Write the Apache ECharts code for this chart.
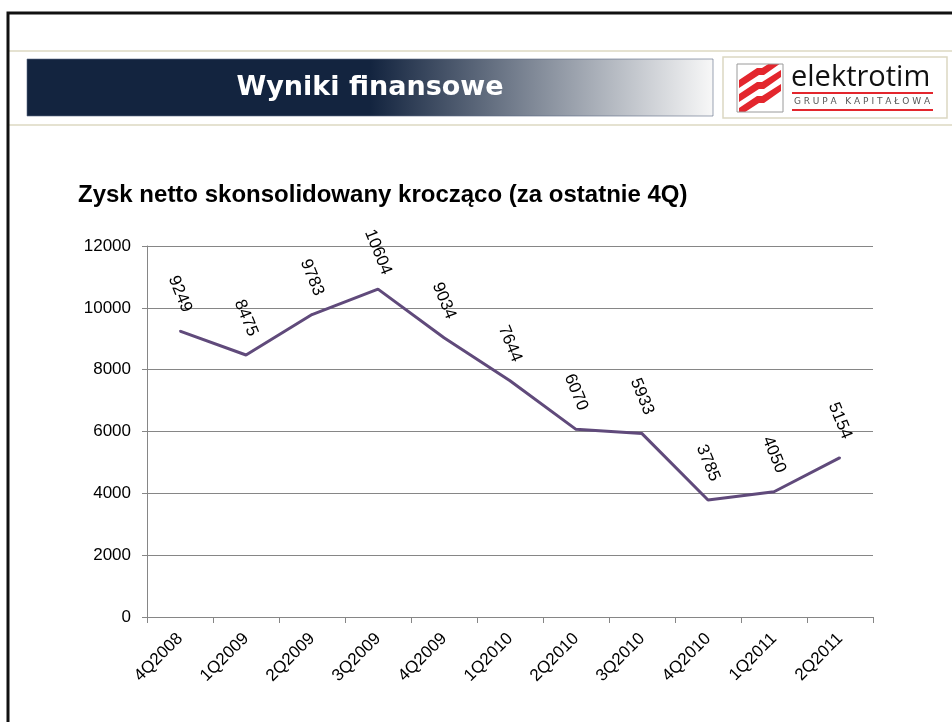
<!DOCTYPE html>
<html>
<head>
<meta charset="utf-8">
<script src="https://cdn.jsdelivr.net/npm/echarts@6/dist/echarts.min.js"></script>
<style>
html,body{margin:0;padding:0;background:#fff;}
#c{width:952px;height:722px;}
</style>
</head>
<body>
<div id="c"></div>
<script>
const categories = ['4Q2008','1Q2009','2Q2009','3Q2009','4Q2009','1Q2010','2Q2010','3Q2010','4Q2010','1Q2011','2Q2011'];
const profitValues = [9249, 8475, 9783, 10604, 9034, 7644, 6070, 5933, 3785, 4050, 5154];
const yTicks = {min: 0, max: 12000, interval: 2000};
const headerTitle = 'Wyniki finansowe';
const chartTitle = 'Zysk netto skonsolidowany krocząco (za ostatnie 4Q)';

const chart = echarts.init(document.getElementById('c'), null, {renderer: 'canvas'});

const stripes = [];
for (let i = 0; i < 3; i++) {
  const o = i * 14;
  stripes.push({
    type: 'polygon',
    shape: {points: [[739, 80 + o], [757, 68 + o], [762, 68 + o], [781, 56 + o], [781, 63 + o], [764, 75 + o], [759, 75 + o], [739, 88 + o]]},
    style: {fill: '#e3262d'}
  });
}

const FONT = 'Liberation Sans, Arial, sans-serif';

const option = {
  animation: false,
  backgroundColor: '#ffffff',
  title: {
    text: chartTitle,
    left: 78, top: 183, padding: 0,
    textStyle: {fontFamily: FONT, fontSize: 24, fontWeight: 'bold', color: '#000'}
  },
  grid: {left: 147, right: 79, top: 246, bottom: 105, containLabel: false},
  xAxis: {
    type: 'category',
    data: categories,
    boundaryGap: true,
    axisLine: {lineStyle: {color: '#868686', width: 1}},
    axisTick: {show: true, length: 6, lineStyle: {color: '#868686'}},
    axisLabel: {rotate: 45, margin: 19, fontFamily: FONT, fontSize: 17, color: '#000', interval: 0}
  },
  yAxis: {
    type: 'value',
    min: yTicks.min, max: yTicks.max, interval: yTicks.interval,
    axisLine: {show: true, lineStyle: {color: '#868686', width: 1}},
    axisTick: {show: true, length: 5, lineStyle: {color: '#868686'}},
    splitLine: {show: true, lineStyle: {color: '#868686', width: 1}},
    axisLabel: {margin: 16, fontFamily: FONT, fontSize: 17, color: '#000', formatter: v => String(v)}
  },
  series: [{
    type: 'line',
    data: profitValues,
    symbol: 'circle',
    symbolSize: 2,
    showSymbol: true,
    itemStyle: {color: '#604a7b'},
    lineStyle: {color: '#604a7b', width: 3},
    label: {
      show: true,
      position: 'top',
      distance: 36,
      rotate: -68,
      align: 'center',
      verticalAlign: 'middle',
      fontFamily: FONT,
      fontSize: 17,
      color: '#000'
    }
  }],
  graphic: [
    {type: 'rect', shape: {x: 8, y: 13, width: 960, height: 730}, style: {fill: 'none', stroke: '#111', lineWidth: 3}, z: 10},
    {type: 'line', shape: {x1: 9, y1: 51, x2: 952, y2: 51}, style: {stroke: '#dcd8c2', lineWidth: 1.5}},
    {type: 'line', shape: {x1: 9, y1: 125, x2: 952, y2: 125}, style: {stroke: '#dcd8c2', lineWidth: 1.5}},
    {type: 'rect', shape: {x: 27, y: 59, width: 686, height: 57},
      style: {
        fill: new echarts.graphic.LinearGradient(0, 0, 1, 0, [
          {offset: 0, color: '#13243f'},
          {offset: 0.5, color: '#13243f'},
          {offset: 1, color: '#f8f8f8'}
        ]),
        stroke: 'rgba(90,105,130,0.6)', lineWidth: 1
      }
    },
    {type: 'text', x: 370, y: 88,
      style: {text: headerTitle, fill: '#ffffff', font: 'bold 27px "DejaVu Sans", sans-serif', textAlign: 'center', textVerticalAlign: 'middle'}
    },
    {type: 'rect', shape: {x: 723, y: 57, width: 224, height: 61}, style: {fill: '#fff', stroke: '#dcd8c2', lineWidth: 1.5}},
    {type: 'group', children: stripes, clipPath: {type: 'rect', shape: {x: 737, y: 64, width: 46, height: 48}}},
    {type: 'rect', shape: {x: 737, y: 64, width: 46, height: 48}, style: {fill: 'none', stroke: '#9a9a9a', lineWidth: 1}},
    {type: 'text', x: 791, y: 92,
      style: {text: 'elektrotim', fill: '#111', font: '29px "Open Sans", sans-serif', textAlign: 'left', textVerticalAlign: 'bottom'}
    },
    {type: 'rect', shape: {x: 792, y: 92, width: 141, height: 2}, style: {fill: '#e3262d'}},
    {type: 'text', x: 862, y: 102,
      style: {text: 'G R U P A   K A P I T A Ł O W A', fill: '#555', font: '9px "DejaVu Sans", sans-serif', textAlign: 'center', textVerticalAlign: 'middle'}
    },
    {type: 'rect', shape: {x: 792, y: 109, width: 141, height: 2}, style: {fill: '#e3262d'}}
  ]
};
chart.setOption(option);
</script>
</body>
</html>
